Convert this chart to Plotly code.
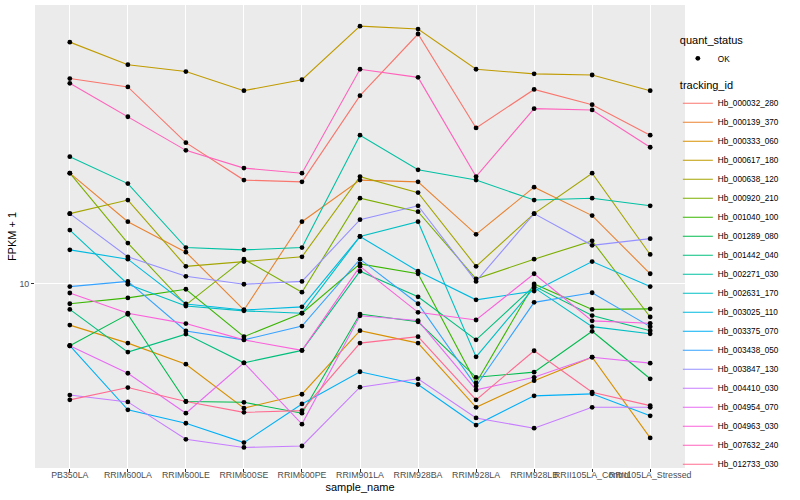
import plotly.graph_objects as go

samples = ["PB350LA", "RRIM600LA", "RRIM600LE", "RRIM600SE", "RRIM600PE", "RRIM901LA",
           "RRIM928BA", "RRIM928LA", "RRIM928LB", "RRII105LA_Control", "RRII105LA_Stressed"]

tracking_ids = ["Hb_000032_280", "Hb_000139_370", "Hb_000333_060", "Hb_000617_180", "Hb_000638_120",
                "Hb_000920_210", "Hb_001040_100", "Hb_001289_080", "Hb_001442_040", "Hb_002271_030",
                "Hb_002631_170", "Hb_003025_110", "Hb_003375_070", "Hb_003438_050", "Hb_003847_130",
                "Hb_004410_030", "Hb_004954_070", "Hb_004963_030", "Hb_007632_240", "Hb_012733_030"]

colors = ["#F8766D", "#EA8331", "#D89000", "#C09B00", "#A3A500", "#7CAE00", "#39B600", "#00BB4E",
          "#00BF7D", "#00C1A3", "#00BFC4", "#00BAE0", "#00B0F6", "#35A2FF", "#9590FF", "#C77CFF",
          "#E76BF3", "#FA62DB", "#FF62BC", "#FF6C91"]

# FPKM + 1 per sample (order of `samples`)
Hb_000032_280 = [22.0, 21.3, 17.2, 14.9, 14.8, 20.6, 26.1, 18.2, 21.1, 19.9, 17.7]
Hb_000139_370 = [15.3, 12.7, 11.3, 9.05, 12.7, 14.9, 14.8, 12.1, 14.5, 13.0, 10.4]
Hb_000333_060 = [8.54, 7.97, 7.35, 6.21, 6.55, 8.36, 7.97, 6.23, 6.90, 7.55, 5.54]
Hb_000617_180 = [25.3, 23.2, 22.6, 21.0, 21.9, 26.9, 26.6, 22.8, 22.4, 22.3, 21.0]
Hb_000638_120 = [13.1, 13.8, 10.7, 10.9, 11.1, 15.1, 14.2, 10.7, 13.1, 15.3, 11.2]
Hb_000920_210 = [15.3, 11.7, 9.23, 11.0, 9.69, 13.9, 13.2, 10.2, 11.0, 11.8, 8.81]
Hb_001040_100 = [9.27, 9.48, 9.80, 8.17, 8.94, 10.8, 10.4, 6.84, 10.0, 9.07, 9.09]
Hb_001289_080 = [7.89, 8.90, 6.37, 6.35, 6.09, 8.91, 8.65, 6.99, 7.13, 8.34, 6.95]
Hb_001442_040 = [9.07, 7.70, 8.25, 7.39, 7.75, 10.5, 9.52, 8.07, 9.92, 8.86, 8.36]
Hb_002271_030 = [16.3, 14.7, 11.5, 11.4, 11.5, 17.7, 15.5, 14.9, 13.8, 13.9, 13.5]
Hb_002631_170 = [12.3, 9.99, 9.19, 9.02, 8.94, 12.0, 12.7, 7.56, 9.86, 8.49, 8.26]
Hb_003025_110 = [11.4, 11.0, 9.26, 9.05, 9.16, 12.0, 10.5, 9.41, 9.73, 10.9, 9.90]
Hb_003375_070 = [7.89, 6.17, 5.86, 5.44, 6.31, 7.14, 6.80, 5.82, 6.51, 6.56, 6.03]
Hb_003438_050 = [9.90, 10.1, 8.35, 8.07, 8.51, 11.0, 9.27, 6.76, 9.32, 9.67, 8.49]
Hb_003847_130 = [13.1, 11.1, 10.3, 9.99, 10.1, 12.8, 13.5, 10.1, 13.1, 11.6, 11.9]
Hb_004410_030 = [6.53, 6.36, 5.51, 5.34, 5.37, 6.73, 6.95, 5.98, 5.75, 6.23, 6.23]
Hb_004954_070 = [7.89, 7.10, 6.09, 7.39, 5.84, 8.85, 8.69, 6.66, 6.99, 7.55, 7.38]
Hb_004963_030 = [9.66, 8.94, 8.59, 8.07, 7.75, 10.7, 8.97, 8.71, 10.4, 8.68, 8.60]
Hb_007632_240 = [21.6, 19.0, 16.7, 15.6, 15.3, 22.8, 22.1, 15.1, 19.6, 19.5, 16.9]
Hb_012733_030 = [6.41, 6.72, 6.37, 6.11, 6.15, 7.97, 8.17, 6.41, 7.74, 6.60, 6.27]

series = [Hb_000032_280, Hb_000139_370, Hb_000333_060, Hb_000617_180, Hb_000638_120,
          Hb_000920_210, Hb_001040_100, Hb_001289_080, Hb_001442_040, Hb_002271_030,
          Hb_002631_170, Hb_003025_110, Hb_003375_070, Hb_003438_050, Hb_003847_130,
          Hb_004410_030, Hb_004954_070, Hb_004963_030, Hb_007632_240, Hb_012733_030]

y_ticks = [10]
FONT = "Liberation Sans, Arial, Helvetica, sans-serif"

fig = go.Figure()
for name, vals, col in zip(tracking_ids, series, colors):
    fig.add_trace(go.Scatter(x=samples, y=vals, mode="lines", name=name,
                             line=dict(color=col, width=1.1), legend="legend"))

all_x, all_y = [], []
for vals in series:
    all_x += samples
    all_y += vals
fig.add_trace(go.Scatter(x=all_x, y=all_y, mode="markers", name="OK",
                         marker=dict(color="black", size=4.8), legend="legend2"))

fig.update_layout(
    width=800, height=500,
    margin=dict(l=35, r=115, t=5, b=32),
    paper_bgcolor="white", plot_bgcolor="#EBEBEB",
    font=dict(family=FONT, size=11, color="black"),
    legend=dict(title=dict(text="tracking_id", font=dict(size=11)),
                font=dict(size=8.2, color="black"),
                x=0.989, xanchor="left", y=0.85, yanchor="top",
                itemwidth=30, tracegroupgap=0, bgcolor="rgba(0,0,0,0)"),
    legend2=dict(title=dict(text="quant_status", font=dict(size=11)),
                 font=dict(size=8.2, color="black"),
                 x=0.989, xanchor="left", y=0.947, yanchor="top",
                 itemwidth=30, bgcolor="rgba(0,0,0,0)"),
)
fig.update_xaxes(type="category", categoryorder="array", categoryarray=samples,
                 range=[-0.6, 10.6], showgrid=True, gridcolor="white", gridwidth=1.1,
                 ticks="outside", ticklen=3, tickcolor="#333333", tickangle=0,
                 ticklabelstandoff=-5,
                 tickfont=dict(size=8.8, color="#4D4D4D"), zeroline=False, showline=False,
                 title=dict(text="sample_name", font=dict(size=11), standoff=4))
fig.update_yaxes(type="log", range=[0.6933, 1.465], tickvals=y_ticks,
                 ticktext=[str(v) for v in y_ticks],
                 showgrid=True, gridcolor="white", gridwidth=1.1,
                 ticks="outside", ticklen=3, tickcolor="#333333",
                 tickfont=dict(size=8.8, color="#4D4D4D"), zeroline=False, showline=False,
                 title=dict(text="FPKM + 1", font=dict(size=11), standoff=0))

fig.write_html("out.html", config={"displayModeBar": False},
               post_script="document.body.style.margin='0';")
